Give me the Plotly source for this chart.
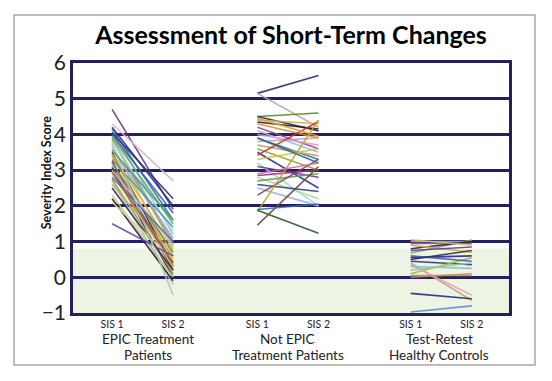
import plotly.graph_objects as go

# ---- data ----
epic_sis1 = [4.7, 4.3, 4.2, 4.15, 4.1, 4.0, 3.95, 3.9, 3.85, 3.8, 3.7, 3.6, 3.5, 3.45, 3.4, 3.3, 3.25, 3.2,
             3.1, 3.05, 3.0, 2.9, 2.8, 2.75, 2.7, 2.6, 2.5, 2.3, 2.2, 2.1, 1.5, 4.05, 3.75, 3.55, 2.95]
epic_sis2 = [1.9, 2.7, 2.0, 1.6, 1.2, 1.8, 1.5, 1.0, 0.9, 1.3, 0.6, 1.1, 0.3, 0.8, 0.5, 1.4, 0.2, 0.7,
             0.4, 0.0, 0.9, 0.3, 1.0, 0.1, -0.2, 0.6, 0.2, 0.0, -0.1, 0.5, 0.6, 2.2, -0.5, 1.6, 0.4]

notepic_sis1 = [5.15, 5.15, 4.5, 4.5, 4.4, 4.35, 4.3, 4.2, 4.1, 4.0, 3.9, 3.8, 3.7, 3.6, 3.5, 3.42, 3.3, 3.2,
                3.1, 2.85, 2.8, 2.7, 2.6, 2.5, 2.3, 1.84, 1.88, 1.46, 1.9, 3.9, 4.45, 2.9]
notepic_sis2 = [5.65, 4.2, 4.6, 4.1, 4.3, 4.15, 3.9, 3.6, 3.5, 3.7, 3.3, 3.9, 3.4, 3.0, 2.5, 4.36, 3.6, 2.0,
                2.8, 3.0, 2.2, 2.9, 2.4, 2.0, 3.3, 4.4, 1.23, 3.1, 2.05, 3.2, 3.95, 3.2]

control_sis1 = [1.0, 0.95, 0.68, 0.8, 0.9, 0.75, 0.55, 0.45, 0.1, 0.05, 0.4, 0.35, -0.45, -0.97, 0.6, 0.3,
                0.5, 0.2, 1.05, 0.0]
control_sis2 = [1.0, 0.95, 1.04, 1.0, 0.7, 0.85, 0.6, 0.35, 0.55, 0.05, -0.65, -0.5, -0.6, -0.8, 0.45, 0.25,
                0.75, 0.4, 0.9, 0.1]

tick_labels = ["SIS 1", "SIS 2", "SIS 1", "SIS 2", "SIS 1", "SIS 2"]
group_labels = ["EPIC Treatment<br>Patients", "Not EPIC<br>Treatment Patients", "Test-Retest<br>Healthy Controls"]

# ---- styles ----
epic_colors = ["#5b3a8c", "#e0b0d0", "#2a2f7a", "#2f6fb0", "#7fc6e8", "#3a5fb0", "#6aa84f", "#8fa88a",
               "#a89a3a", "#a6dcef", "#c8b560", "#b6a0d8", "#3d2b1f", "#d4b84a", "#e08a2c", "#4a9aa0",
               "#8a3a2a", "#5a9a3a", "#7a4aa0", "#1f1f5a", "#e8b8c8", "#e0c040", "#4070c0", "#9a9040",
               "#a0c8a0", "#c8a878", "#2a2a6a", "#d0c070", "#1a1a40", "#e8d890", "#6a4aa0", "#303080",
               "#b0c8b0", "#40a080", "#8a6a40"]
notepic_colors = ["#2a2a7a", "#c8a0b8", "#5a8a2a", "#2a2a6a", "#d0b060", "#202020", "#e08a40", "#8a4aa0",
                  "#8ac0e0", "#e0a0c0", "#3a6ab0", "#b0a0d8", "#c0a070", "#a0a040", "#2a3a8a", "#d03020",
                  "#d0c040", "#9ad8e8", "#6a3a8a", "#a03080", "#b0d890", "#60a060", "#3a3a8a", "#9ab0e0",
                  "#7a4a6a", "#c8a020", "#2a5a2a", "#6a5040", "#3a6ab0", "#2a6a7a", "#e0a030", "#d070a0"]
control_colors = ["#8ab0e0", "#7a4aa0", "#80b040", "#1a1a4a", "#d0b040", "#6a3a9a", "#2a2a7a", "#303080",
                  "#90c040", "#b09a30", "#c8a080", "#e0a0b0", "#2a2a80", "#5a90d0", "#4060b0", "#80c0d0",
                  "#303060", "#a0c890", "#d8c060", "#c09060"]

x_pos = [1, 2, 3.38, 4.38, 5.89, 6.89]
navy = "#241f5e"

fig = go.Figure()

groups = [
    (epic_sis1, epic_sis2, epic_colors, x_pos[0], x_pos[1]),
    (notepic_sis1, notepic_sis2, notepic_colors, x_pos[2], x_pos[3]),
    (control_sis1, control_sis2, control_colors, x_pos[4], x_pos[5]),
]
for s1, s2, cols, xa, xb in groups:
    for a, b, c in zip(s1, s2, cols):
        fig.add_trace(go.Scatter(x=[xa, xb], y=[a, b], mode="lines",
                                 line=dict(color=c, width=1.6), opacity=0.9,
                                 showlegend=False, hoverinfo="skip"))

# green healthy band
fig.add_shape(type="rect", xref="paper", yref="y", x0=0, x1=1, y0=-1, y1=0.8,
              fillcolor="#eef4e3", line=dict(width=0), layer="below")
# outer gray frame
fig.add_shape(type="rect", xref="paper", yref="paper", x0=-0.1353, x1=1.0596, y0=-0.208, y1=1.192,
              line=dict(color="#a8a8a8", width=1.5), fillcolor="rgba(0,0,0,0)", layer="below")

# group labels, two lines each with tight spacing
for xc, lbl in zip([(x_pos[0] + x_pos[1]) / 2 + 0.09, (x_pos[2] + x_pos[3]) / 2,
                    (x_pos[4] + x_pos[5]) / 2 - 0.03], group_labels):
    for yy, part in zip([-0.102, -0.168], lbl.split("<br>")):
        fig.add_annotation(x=xc, xref="x", y=yy, yref="paper", yanchor="middle", text=part,
                           showarrow=False, borderpad=0,
                           font=dict(family="Lato", size=13.5, color="#222"))

fig.add_annotation(text="Severity Index Score", textangle=-90, x=-0.083, xref="paper",
                   y=0.564, yref="paper", showarrow=False,
                   font=dict(family="Lato", size=12.5, color="#111", weight="bold"))

# page body has an 8px margin: figure is shrunk by 8px so the plot lands where the reference has it
fig.update_layout(
    width=544, height=373,
    margin=dict(l=65, r=43, t=55, b=68),
    paper_bgcolor="white", plot_bgcolor="white",
    title=dict(text="Assessment of Short-Term Changes", x=0.5, xref="paper", xanchor="center",
               y=1 - 27 / 373, yanchor="middle",
               font=dict(family="Lato", size=25, color="#000", weight="bold")),
    xaxis=dict(range=[0.36, 7.5], tickvals=x_pos, ticktext=tick_labels, showgrid=False,
               zeroline=False, showline=True, mirror=True, linecolor=navy, linewidth=2.5,
               ticks="", tickfont=dict(family="Lato", size=10.5, color="#222")),
    yaxis=dict(range=[-1, 6], dtick=1, showgrid=True, gridcolor=navy, gridwidth=2.5,
               zeroline=False, showline=True, mirror=True, linecolor=navy, linewidth=2.5,
               ticks="", tickfont=dict(family="Lato", size=21, color="#222")),
)

fig.write_html("out.html")
